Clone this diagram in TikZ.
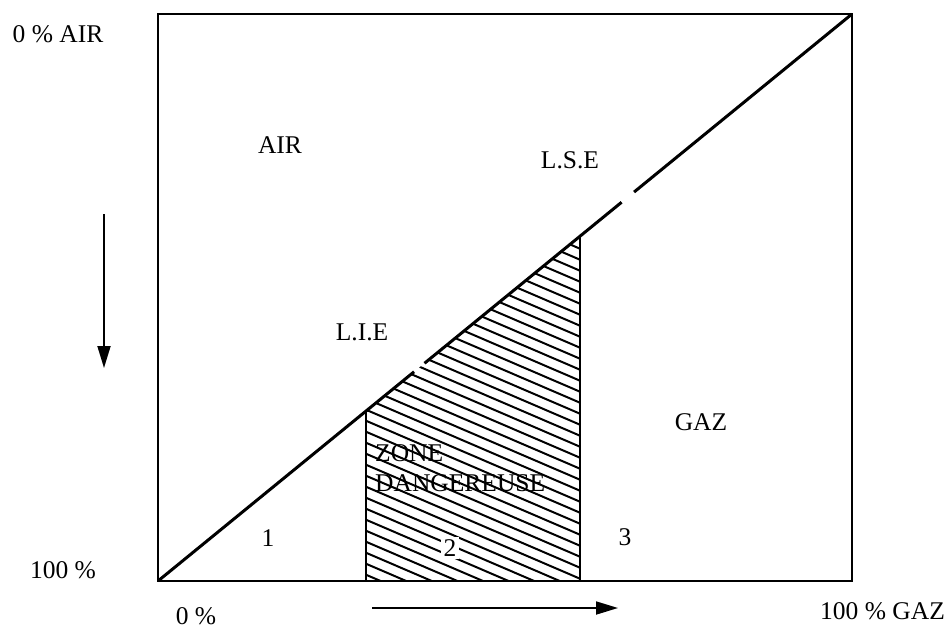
\documentclass[tikz,border=0pt]{standalone}
\usepackage{fontspec}
\setmainfont{Liberation Serif}
\usetikzlibrary{arrows.meta,calc}
\begin{document}
\begin{tikzpicture}[x=1pt,y=-1pt,
  lbl/.style={font=\fontsize{25.5}{27}\selectfont, inner sep=0pt},
  frame/.style={line width=2.2pt, line join=miter},
  diag/.style={line width=3pt, line cap=butt},
  limit/.style={line width=2.2pt},
  hatch/.style={line width=2pt},
  flow/.style={line width=1.8pt, -{Triangle[length=22pt,width=13pt]}}]
\useasboundingbox (0,0) rectangle (946,632);
% frame corners
\coordinate (TL) at (158,14);
\coordinate (TR) at (852,14);
\coordinate (BR) at (852,581);
\coordinate (BL) at (158,581);
% limits on the diagonal
\coordinate (P1) at ($(BL)!0.2997!(TR)$);
\coordinate (P2) at ($(BL)!0.608!(TR)$);
\coordinate (Q1) at (P1 |- BL);
\coordinate (Q2) at (P2 |- BL);
% gaps in the diagonal
\coordinate (G1a) at ($(BL)!0.369!(TR)$);
\coordinate (G1b) at ($(BL)!0.384!(TR)$);
\coordinate (G2a) at ($(BL)!0.668!(TR)$);
\coordinate (G2b) at ($(BL)!0.686!(TR)$);
% hatching of the dangerous zone
\begin{scope}
  \clip (P1) -- (P2) -- (Q2) -- (Q1) -- cycle;
  \foreach \c in {130,141,...,600}
    \draw[hatch] (355,\c) -- (590,\c+101);
\end{scope}
% frame
\draw[frame] (TL) rectangle (BR);
% diagonal
\draw[diag] (BL) -- (G1a);
\draw[diag] (G1b) -- (G2a);
\draw[diag] (G2b) -- (TR);
% limit verticals
\draw[limit] (P1) -- (Q1);
\draw[limit] (P2) -- (Q2);
% arrows
\coordinate (VA1) at (104,214);
\coordinate (VA2) at (104,368);
\draw[flow] (VA1) -- (VA2);
\coordinate (HA1) at (372,608);
\coordinate (HA2) at (618,608);
\draw[flow] (HA1) -- (HA2);
% labels
\node[lbl] (air0) at (58,34) {0 \% AIR};
\node[lbl] (air) at (280,145) {AIR};
\node[lbl] (lse) at (570,160) {L.S.E};
\node[lbl] (lie) at (362,332) {L.I.E};
\node[lbl] (gaz) at (701,422) {GAZ};
\node[lbl, anchor=west] (zone) at (375,453) {ZONE};
\node[lbl, anchor=west] (dang) at (375,483) {DANGEREUSE};
\node[lbl] (n1) at (268,538) {1};
\node[lbl, fill=white, inner sep=3pt] (n2) at (450,548) {2};
\node[lbl] (n3) at (625,537) {3};
\node[lbl] (c100) at (63,570) {100 \%};
\node[lbl] (g0) at (196,616) {0 \%};
\node[lbl, anchor=west] (g100) at (820,611) {100 \% GAZ};
\end{tikzpicture}
\end{document}
